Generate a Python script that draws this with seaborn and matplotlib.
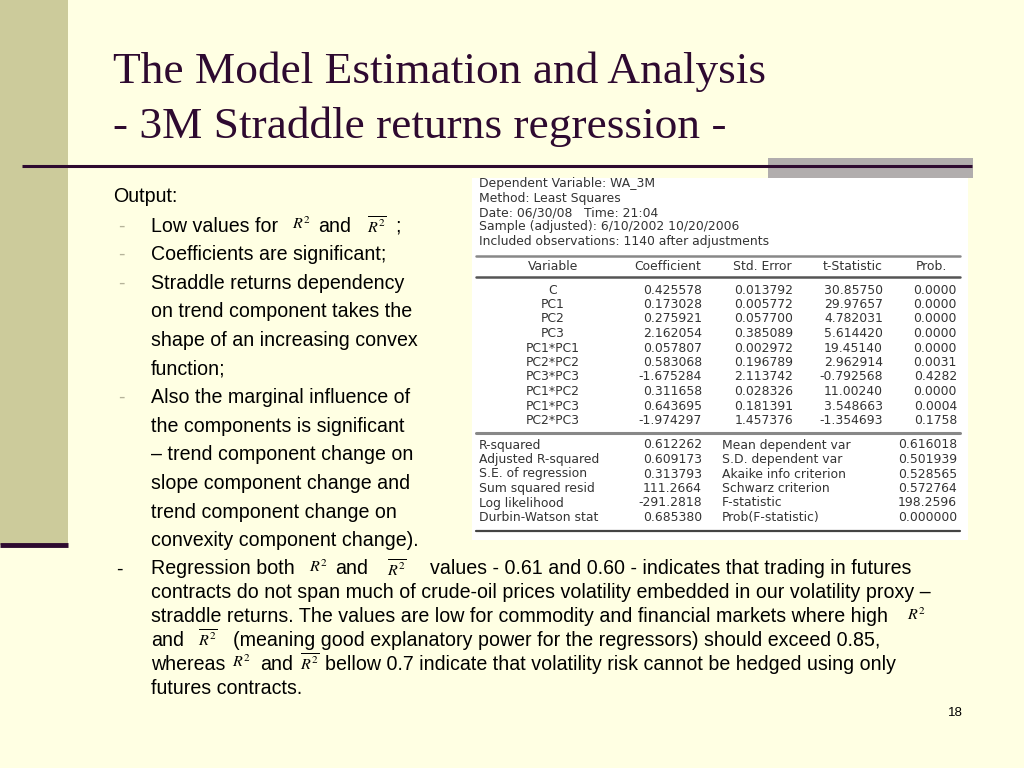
import matplotlib
matplotlib.use("Agg")
import matplotlib.pyplot as plt
import matplotlib.patches as mpatches
import seaborn as sns

# regression output (EViews style)
header_info = [
    "Dependent Variable: WA_3M",
    "Method: Least Squares",
    "Date: 06/30/08   Time: 21:04",
    "Sample (adjusted): 6/10/2002 10/20/2006",
    "Included observations: 1140 after adjustments",
]
col_names = ["Variable", "Coefficient", "Std. Error", "t-Statistic", "Prob."]
variables = ["C", "PC1", "PC2", "PC3", "PC1*PC1", "PC2*PC2", "PC3*PC3",
             "PC1*PC2", "PC1*PC3", "PC2*PC3"]
coefs = ["0.425578", "0.173028", "0.275921", "2.162054", "0.057807",
         "0.583068", "-1.675284", "0.311658", "0.643695", "-1.974297"]
std_errs = ["0.013792", "0.005772", "0.057700", "0.385089", "0.002972",
            "0.196789", "2.113742", "0.028326", "0.181391", "1.457376"]
t_stats = ["30.85750", "29.97657", "4.782031", "5.614420", "19.45140",
           "2.962914", "-0.792568", "11.00240", "3.548663", "-1.354693"]
probs = ["0.0000", "0.0000", "0.0000", "0.0000", "0.0000",
         "0.0031", "0.4282", "0.0000", "0.0004", "0.1758"]
stat_left = ["R-squared", "Adjusted R-squared", "S.E. of regression",
             "Sum squared resid", "Log likelihood", "Durbin-Watson stat"]
stat_left_vals = ["0.612262", "0.609173", "0.313793", "111.2664",
                  "-291.2818", "0.685380"]
stat_right = ["Mean dependent var", "S.D. dependent var", "Akaike info criterion",
              "Schwarz criterion", "F-statistic", "Prob(F-statistic)"]
stat_right_vals = ["0.616018", "0.501939", "0.528565", "0.572764",
                   "198.2596", "0.000000"]

title_lines = ["The Model Estimation and Analysis",
               "- 3M Straddle returns regression -"]

R2 = r"$R^2$"
R2B = r"$\overline{R^2}$"

sns.set_theme(style="white")
plt.rcParams["font.family"] = ["Liberation Sans", "DejaVu Sans"]
plt.rcParams["mathtext.fontset"] = "stix"

BG = "#FFFFE3"
PURPLE = "#2E0A30"
OLIVE = "#CCCB9B"

fig = plt.figure(figsize=(10.24, 7.68), dpi=100, facecolor=BG)
ax = fig.add_axes([0, 0, 1, 1])
ax.set_xlim(0, 1024)
ax.set_ylim(768, 0)
ax.axis("off")
ax.set_facecolor(BG)

# slide decoration
ax.add_patch(mpatches.Rectangle((0, 0), 68, 545, color=OLIVE, lw=0))
ax.plot([0, 68], [545, 545], color=PURPLE, lw=3.5, solid_capstyle="butt")
ax.add_patch(mpatches.Rectangle((768, 158), 205, 20, color="#B1ADAD", lw=0))
ax.plot([22, 972], [166, 166], color=PURPLE, lw=2.2, solid_capstyle="butt")

for i, line in enumerate(title_lines):
    ax.text(113, 72 + i * 55, line, family="Liberation Serif", fontsize=32.7,
            color=PURPLE, va="center", ha="left")

# regression table
ax.add_patch(mpatches.Rectangle((472, 178), 496, 362, color="white", lw=0))
tfs = 8.9
tcol = "#333333"
tfam = "DejaVu Sans"
for i, s in enumerate(header_info):
    ax.text(479, 184 + i * 14.3, s, fontsize=tfs, family=tfam,
            color=tcol, va="center")

ax.plot([476, 960], [256, 256], color="#888888", lw=1.8)
col_x = [553, 668, 762, 853, 931]
for x, name in zip(col_x, col_names):
    ax.text(x, 266, name, fontsize=tfs, family=tfam, color=tcol,
            ha="center", va="center")
ax.plot([476, 960], [277, 277], color="#555555", lw=1.8)

right_x = [702, 793, 883, 957]
for i, row in enumerate(zip(variables, coefs, std_errs, t_stats, probs)):
    y = 290 + i * 14.5
    ax.text(col_x[0], y, row[0], fontsize=tfs, family=tfam,
            color=tcol, ha="center", va="center")
    for x, val in zip(right_x, row[1:]):
        ax.text(x, y, val, fontsize=tfs, family=tfam, color=tcol,
                ha="right", va="center")

ax.plot([476, 960], [433, 433], color="#888888", lw=2.2)
for i in range(len(stat_left)):
    y = 445 + i * 14.5
    ax.text(479, y, stat_left[i], fontsize=tfs, family=tfam,
            color=tcol, va="center")
    ax.text(702, y, stat_left_vals[i], fontsize=tfs, family=tfam,
            color=tcol, va="center", ha="right")
    ax.text(722, y, stat_right[i], fontsize=tfs, family=tfam,
            color=tcol, va="center")
    ax.text(957, y, stat_right_vals[i], fontsize=tfs, family=tfam,
            color=tcol, va="center", ha="right")
ax.plot([476, 960], [531, 531], color="#444444", lw=1.6)

# left column text
fs = 14.1
mfs = 11.5
dash_col = "#B5B39A"


def put(x, y, s, size=fs, **kw):
    ax.text(x, y, s, fontsize=size, color="black", va="center", ha="left", **kw)


put(113, 196, "Output:")
left_lines = [
    ("-", "Low values for"),
    ("-", "Coefficients are significant;"),
    ("-", "Straddle returns dependency"),
    ("", "on trend component takes the"),
    ("", "shape of an increasing convex"),
    ("", "function;"),
    ("-", "Also the marginal influence of"),
    ("", "the components is significant"),
    ("", "\u2013 trend component change on"),
    ("", "slope component change and"),
    ("", "trend component change on"),
    ("", "convexity component change)."),
]
for i, (dash, txt) in enumerate(left_lines):
    y = 226 + i * 28.6
    if dash:
        ax.text(118, y, dash, fontsize=fs, color=dash_col, va="center")
    put(151, y, txt)
put(292, 224, R2, mfs)
put(318, 226, "and")
put(367, 226, R2B, mfs)
put(395, 226, ";")

# bottom paragraph
put(116, 569, "-")
put(151, 569, "Regression both")
put(309, 567, R2, mfs)
put(335, 569, "and")
put(387, 569, R2B, mfs)
put(430, 569, "values - 0.61 and 0.60 - indicates that trading in futures")
put(151, 593, "contracts do not span much of crude-oil prices volatility embedded in our volatility proxy \u2013")
put(151, 617, "straddle returns. The values are low for commodity and financial markets where high")
put(907, 615, R2, mfs)
put(151, 641, "and")
put(198, 639, R2B, mfs)
put(233, 641, "(meaning good explanatory power for the regressors) should exceed 0.85,")
put(151, 665, "whereas")
put(232, 662, R2, mfs)
put(260, 665, "and")
put(300, 663, R2B, mfs)
put(325, 665, "bellow 0.7 indicate that volatility risk cannot be hedged using only")
put(151, 689, "futures contracts.")

ax.text(955, 713, "18", fontsize=9.5, color="black", ha="center", va="center")

fig.savefig("out.png", dpi=100, facecolor=BG)
